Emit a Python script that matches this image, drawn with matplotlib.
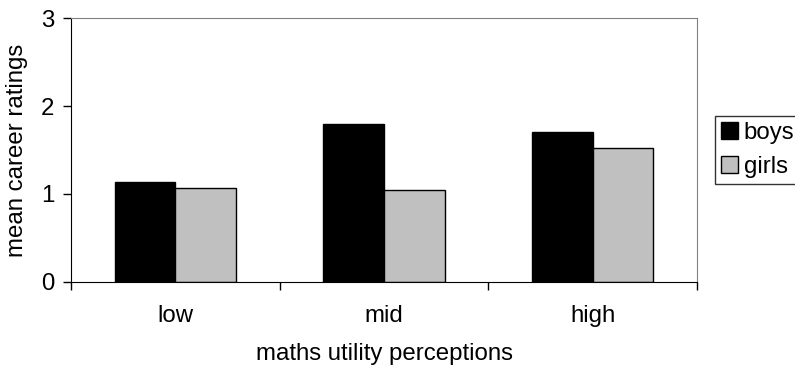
import numpy as np
import matplotlib
matplotlib.use("Agg")
import matplotlib.pyplot as plt

plt.rcParams["font.family"] = ["Liberation Sans", "DejaVu Sans"]

categories = ["low", "mid", "high"]
boys = [1.14, 1.80, 1.70]
girls = [1.07, 1.05, 1.52]
yticks = [0, 1, 2, 3]

FS = 17.3
W, H = 795, 371
fig = plt.figure(figsize=(W / 100, H / 100), dpi=100)
left, right, top, bottom = 71, 697, 18.3, 281.7
ax = fig.add_axes([left / W, (H - bottom) / H, (right - left) / W, (bottom - top) / H])

x = np.arange(len(categories))
w = 0.29
ax.bar(x - w / 2, boys, w, color="black", edgecolor="black", linewidth=1, label="boys")
ax.bar(x + w / 2, girls, w, color="#c0c0c0", edgecolor="black", linewidth=1, label="girls")

ax.set_xlim(-0.5, len(categories) - 0.5)
ax.set_ylim(0, 3)
ax.set_yticks(yticks)
ax.set_yticklabels([str(v) for v in yticks], fontsize=FS)
ax.tick_params(axis="y", direction="out", length=6, width=1, pad=6)

# category boundary ticks (major) and labels at centers (minor)
ax.set_xticks(np.arange(-0.5, len(categories), 1.0))
ax.set_xticklabels([])
ax.tick_params(axis="x", which="major", direction="out", length=5.5, width=1)
ax.set_xticks(x, minor=True)
ax.set_xticklabels(categories, minor=True, fontsize=FS)
ax.tick_params(axis="x", which="minor", length=0, pad=17)

for s in ["top", "right"]:
    ax.spines[s].set_color("#808080")
for s in ["left", "bottom"]:
    ax.spines[s].set_color("black")

ax.set_ylabel("mean career ratings", fontsize=FS, labelpad=9)
ax.set_xlabel("maths utility perceptions", fontsize=FS, labelpad=11)

leg = ax.legend(loc="center left", bbox_to_anchor=(715 / W, (H - 150) / H),
                bbox_transform=fig.transFigure, fontsize=FS, frameon=True,
                fancybox=False, edgecolor="black", handlelength=0.7,
                handleheight=0.7, handletextpad=0.25, borderpad=0.25,
                labelspacing=0.5, borderaxespad=0)
leg.get_frame().set_linewidth(1)

fig.savefig("out.png", dpi=100)
